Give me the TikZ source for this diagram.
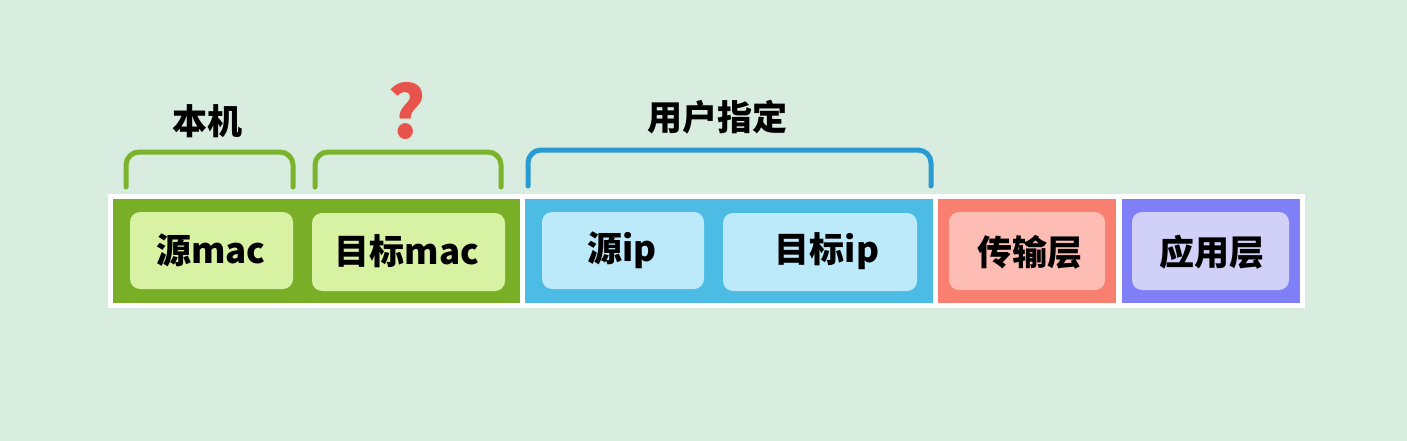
\documentclass[tikz,border=0pt]{standalone}
\usepackage{fontspec}
\newfontfamily\cjk{Noto Sans CJK SC}
\definecolor{bg}{HTML}{D8ECDF}
\definecolor{grn}{HTML}{79AF26}
\definecolor{grnin}{HTML}{D6F2A2}
\definecolor{blu}{HTML}{4DBCE4}
\definecolor{bluin}{HTML}{BCEAFA}
\definecolor{red1}{HTML}{F97F70}
\definecolor{redin}{HTML}{FEBDB4}
\definecolor{pur}{HTML}{7F7FF7}
\definecolor{purin}{HTML}{D0D0F9}
\definecolor{brgrn}{HTML}{7CB32C}
\definecolor{brblu}{HTML}{2A9BD0}
\definecolor{qred}{HTML}{E8534B}
\tikzset{
  inbox/.style={rounded corners=10pt, draw=none},
  lbl/.style={font=\cjk\bfseries\fontsize{35}{35}\selectfont, text=black, inner sep=0pt},
  toplbl/.style={font=\cjk\bfseries\fontsize{35}{35}\selectfont, text=black, inner sep=0pt},
  brace/.style={line width=5pt, rounded corners=13pt, line cap=round}
}
\begin{document}
\begin{tikzpicture}[x=1pt,y=-1pt]
\useasboundingbox (0,0) rectangle (1407,441);
\fill[bg] (0,0) rectangle (1407,441);
% white band
\fill[white] (108,194) rectangle (1305,308);
% segments
\fill[grn] (113,199) rectangle (520,303);
\fill[blu] (525,199) rectangle (933,303);
\fill[red1] (938,199) rectangle (1116,303);
\fill[pur] (1122,199) rectangle (1300,303);
% inner boxes
\fill[grnin,inbox] (130,212) rectangle (293,289);
\fill[grnin,inbox] (312,213) rectangle (505,291);
\fill[bluin,inbox] (542,212) rectangle (704,289);
\fill[bluin,inbox] (723,213) rectangle (917,291);
\fill[redin,inbox] (949,212) rectangle (1105,290);
\fill[purin,inbox] (1132,212) rectangle (1289,290);
% labels
\node[lbl] (smac) at (211,250) {源mac};
\node[lbl] (dmac) at (407,251) {目标mac};
\node[lbl] (sip) at (622,250) {源ip};
\node[lbl] (dip) at (827,251) {目标ip};
\node[lbl] (tl) at (1030,252) {传输层};
\node[lbl] (al) at (1212,252) {应用层};
% brackets
\draw[brace, brgrn] (126,187) -- (126,152) -- (293,152) -- (293,187);
\draw[brace, brgrn] (315,187) -- (315,152) -- (501,152) -- (501,187);
\draw[brace, brblu] (528,186) -- (528,150) -- (931,150) -- (931,186);
% top labels
\node[toplbl] (bj) at (207,121) {本机};
\node[font=\cjk\bfseries\fontsize{72}{72}\selectfont, text=qred, inner sep=0pt] (q) at (407,111) {?};
\node[toplbl] (yh) at (717,117) {用户指定};
\end{tikzpicture}
\end{document}
